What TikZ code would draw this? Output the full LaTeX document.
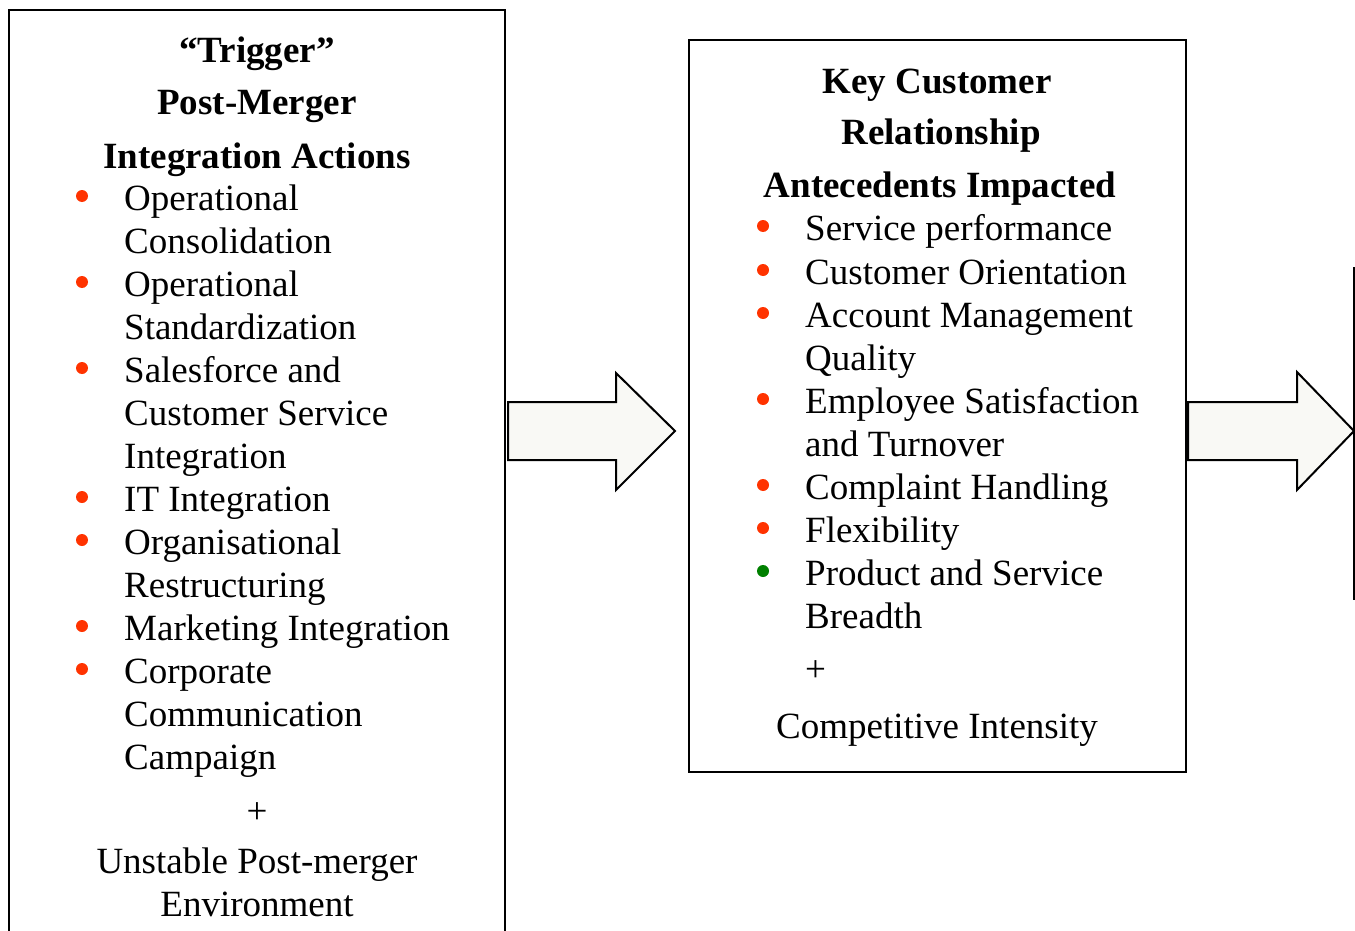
\documentclass[tikz,border=0pt]{standalone}
\usepackage{fontspec}
\setmainfont{Liberation Serif}
\definecolor{bulletred}{RGB}{255,51,0}
\definecolor{bulletgreen}{RGB}{0,128,0}
\definecolor{arrowfill}{RGB}{249,249,245}
\begin{document}
\begin{tikzpicture}[x=1pt,y=-1pt,
  txt/.style={inner sep=0pt, font=\fontsize{37}{43}\selectfont},
  ttl/.style={inner sep=0pt, font=\fontsize{37}{43}\selectfont\bfseries, anchor=base},
  item/.style={txt, anchor=base west},
  ctr/.style={txt, anchor=base},
  dotr/.style={circle, fill=bulletred, inner sep=0pt, minimum size=12pt},
  dotg/.style={circle, fill=bulletgreen, inner sep=0pt, minimum size=12pt},
  boxline/.style={draw=black, line width=2pt},
  bigarrow/.style={draw=black, line width=2pt, fill=arrowfill, line join=miter}]
\useasboundingbox (0,0) rectangle (1355,931);

% left box (bottom edge outside the picture)
\draw[boxline] (9,931) -- (9,10) -- (505,10) -- (505,931);
% middle box
\draw[boxline] (689,40) rectangle (1186,772);
% edge of a third box
\draw[boxline] (1354,267) -- (1354,600);

% arrows
\draw[bigarrow] (508,402) -- (616,402) -- (616,373) -- (675,431) -- (616,490) -- (616,460) -- (508,460) -- cycle;
\draw[bigarrow] (1188,402) -- (1297,402) -- (1297,372) -- (1354,431) -- (1297,490) -- (1297,460) -- (1188,460) -- cycle;

% left box texts
\node[ttl] (lt1) at (257,63) {“Trigger”};
\node[ttl] (lt2) at (257,115) {Post-Merger};
\node[ttl] (lt3) at (257,168) {Integration Actions};

\node[dotr] (ld1) at (82,196) {};
\node[dotr] (ld2) at (82,282) {};
\node[dotr] (ld3) at (82,368) {};
\node[dotr] (ld4) at (82,497) {};
\node[dotr] (ld5) at (82,540) {};
\node[dotr] (ld6) at (82,626) {};
\node[dotr] (ld7) at (82,669) {};

\node[item] (l0) at (124,210) {Operational};
\node[item] (l1) at (124,253) {Consolidation};
\node[item] (l2) at (124,296) {Operational};
\node[item] (l3) at (124,339) {Standardization};
\node[item] (l4) at (124,382) {Salesforce and};
\node[item] (l5) at (124,425) {Customer Service};
\node[item] (l6) at (124,468) {Integration};
\node[item] (l7) at (124,511) {IT Integration};
\node[item] (l8) at (124,554) {Organisational};
\node[item] (l9) at (124,597) {Restructuring};
\node[item] (l10) at (124,640) {Marketing Integration};
\node[item] (l11) at (124,683) {Corporate};
\node[item] (l12) at (124,726) {Communication};
\node[item] (l13) at (124,769) {Campaign};
\node[ctr] (lplus) at (257,823) {+};
\node[ctr] (le1) at (257,873) {Unstable Post-merger};
\node[ctr] (le2) at (257,916) {Environment};

% middle box texts
\node[ttl] (mt1) at (937,94) {Key Customer};
\node[ttl] (mt2) at (941,145) {Relationship};
\node[ttl] (mt3) at (940,197) {Antecedents Impacted};

\node[dotr] (md1) at (763,226) {};
\node[dotr] (md2) at (763,270) {};
\node[dotr] (md3) at (763,313) {};
\node[dotr] (md4) at (763,399) {};
\node[dotr] (md5) at (763,485) {};
\node[dotr] (md6) at (763,528) {};
\node[dotg] (md7) at (763,571) {};

\node[item] (m0) at (805,240) {Service performance};
\node[item] (m1) at (805,284) {Customer Orientation};
\node[item] (m2) at (805,327) {Account Management};
\node[item] (m3) at (805,370) {Quality};
\node[item] (m4) at (805,413) {Employee Satisfaction};
\node[item] (m5) at (805,456) {and Turnover};
\node[item] (m6) at (805,499) {Complaint Handling};
\node[item] (m7) at (805,542) {Flexibility};
\node[item] (m8) at (805,585) {Product and Service};
\node[item] (m9) at (805,628) {Breadth};
\node[item] (mplus) at (805,681) {+};
\node[ctr] (me1) at (937,738) {Competitive Intensity};
\end{tikzpicture}
\end{document}
